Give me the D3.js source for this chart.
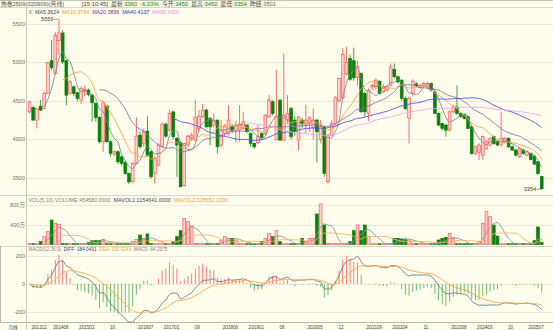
<!DOCTYPE html>
<html lang="zh">
<head>
<meta charset="UTF-8" />
<title>热卷2509 月线 – D3.js</title>
<script src="https://d3js.org/d3.v7.min.js"></script>
<style>
  body { margin: 0; background: #fffeec; }
  svg { display: block; font-family: "Liberation Sans", "Noto Sans CJK SC", sans-serif; }
  .axis-label { fill: #707070; font-size: 5.6px; }
  .xlab { fill: #404040; font-size: 4.6px; }
</style>
</head>
<body>
<svg width="553" height="330"></svg>
<script>
// monthly bars 2013-12 .. 2025-07
const months = d3.timeMonth
  .range(new Date(2013, 11, 1), new Date(2025, 7, 1))
  .map(d3.timeFormat('%Y-%m'));

const opens = [4358,4415,4250,4430,4400,4596,5020,4855,5280,5380,5020,4596,4682,4605,4510,4620,4640,4574,4466,4285,
  3970,4432,3970,3810,3840,3775,3700,3560,3450,3690,4056,3948,4108,3840,3560,3668,3905,4199,4120,4358,
  4013,3957,3400,3927,4013,3991,4140,4300,4380,4272,4186,4250,3927,4078,4078,4164,4120,4120,4140,4186,
  4078,3948,3957,4078,4078,4294,4488,4000,4510,3991,4250,4400,4250,3990,4250,4200,4210,4150,4250,4000,
  4164,3452,4056,4207,4500,4540,4850,5050,5020,4800,4855,4596,4337,4680,4682,4750,4617,4640,4704,4907,
  4812,4768,4531,4272,4600,4720,4680,4700,4680,4725,4617,4337,4207,4186,4121,4358,4420,4337,4315,4294,
  4164,3819,3830,3797,3883,3927,4035,3970,3927,3970,4013,3905,3862,3775,3862,3797,3819,3784,3711,3520];
const highs = [4501,4430,4410,4510,4617,5000,5287,5390,5559,5420,5030,4770,4700,4620,4690,4700,4660,4590,4480,4300,
  4490,4450,3990,3860,3860,3800,3720,3570,3700,4285,4100,4140,4300,3860,3780,3950,4220,4220,4380,4360,
  4030,3980,3960,4060,4080,4510,4380,4460,4400,4290,4337,4260,4250,4200,4445,4200,4240,4445,4358,4200,
  4090,3960,4186,4090,4330,4575,4510,4900,4520,5114,4575,4420,4300,4300,4280,4450,4300,4400,4270,4250,
  4180,4070,4250,4560,4800,5180,5200,5100,5190,5020,4870,4620,4660,4720,4790,4770,4720,4700,4985,4985,
  4830,4780,4560,4560,4780,4740,4720,4740,4750,4740,4630,4350,4220,4200,4380,4440,4700,4350,4330,4310,
  4180,3920,3950,4050,3990,4030,4050,3990,4358,4030,4030,3920,3880,3900,3880,3860,3830,3800,3720,3530];
const lows = [4337,4245,4142,4370,4390,4590,4900,4840,5100,4980,4445,4580,4560,4490,4460,4560,4560,4230,4230,3950,
  3840,3960,3780,3780,3680,3660,3540,3420,3440,3680,3880,3900,3780,3490,3430,3650,3890,4020,4100,4000,
  3516,3380,3390,3900,3980,3980,4100,4280,4140,3925,4160,3820,3900,4040,4060,4080,3960,3970,4120,4080,
  3900,3880,3940,4000,4060,4280,4310,3990,3980,3980,4200,4000,4050,3860,4150,4080,4100,4000,3700,3950,
  3516,3430,4040,4180,4480,4520,4830,4760,4760,4700,4340,4300,4240,4640,4650,4580,4600,4620,4690,4790,
  4720,4500,4380,3948,4560,4680,4660,4690,4660,4620,4330,4170,4120,4035,4100,4340,4320,4280,4260,4130,
  3800,3800,3732,3732,3870,3910,3930,3910,3910,3950,3890,3850,3780,3760,3800,3780,3730,3670,3540,3354];
const closes = [4488,4250,4400,4380,4596,4997,4933,5350,5380,5006,4574,4747,4596,4530,4660,4650,4583,4475,4285,3970,
  4475,3970,3820,3840,3710,3690,3560,3450,3690,4043,3905,4100,3797,3516,3754,3927,4199,4043,4337,4035,
  3927,3387,3948,4043,4056,4285,4300,4380,4164,4164,4250,3905,4121,4164,4250,4120,4186,4200,4229,4100,
  3948,3905,4035,4026,4315,4510,4337,4300,3991,4315,4337,4035,4100,4290,4210,4250,4280,4240,4100,4164,
  3560,4056,4207,4540,4790,5100,5000,4780,4800,4950,4360,4358,4639,4700,4768,4596,4682,4682,4941,4812,
  4747,4531,4400,4531,4750,4700,4700,4725,4725,4640,4337,4186,4142,4121,4358,4423,4337,4294,4272,4142,
  3819,3905,3927,4035,3970,4013,3948,3927,4013,4013,3905,3862,3797,3883,3819,3840,3740,3680,3560,3360];
// volume in 万 (10k lots)
const volumes = [12,10,15,57,157,257,490,423,403,20,15,10,12,10,15,12,37,77,77,77,
  103,15,12,10,12,10,12,15,60,100,190,120,210,20,12,10,12,10,15,57,
  157,277,523,457,370,20,12,10,12,10,12,15,90,157,123,123,90,15,12,10,
  12,10,12,60,123,223,157,277,57,15,12,10,12,15,123,57,123,123,610,810,
  390,20,12,10,12,10,15,57,277,390,277,390,157,15,12,10,12,10,12,123,
  123,110,110,90,15,12,10,12,10,12,15,90,123,143,223,123,15,12,10,12,
  10,12,57,423,657,557,390,170,15,12,10,12,10,12,23,23,23,77,350,45.5];

const tickMonths = ['2013-12','2014-08','2015-03','2015-10','2016-07','2017-02','2017-09','2018-06','2019-01','2019-08',
  '2020-05','2020-12','2021-09','2022-04','2022-11','2023-08','2024-03','2024-10','2025-07'];
const tickLabels = ['201312','201408','201503','10','201607','201702','09','201806','201901','08',
  '202005','12','202109','202204','11','202308','202403','10','202507'];

const priceTicks = [3500, 4000, 4500, 5000, 5500];
const volTicks = [400, 800];
const macdTicks = [-200, 0, 200];

const svg = d3.select('svg');
const W = 553;

const bars = months.map((m, i) => ({
  m, i, o: opens[i], h: highs[i], l: lows[i], c: closes[i], v: volumes[i],
  up: closes[i] >= opens[i],
}));

// moving average helper
function ma(arr, n) {
  return arr.map((d, i) => (i < n - 1 ? null : d3.mean(arr.slice(i - n + 1, i + 1))));
}
function ema(arr, n) {
  const out = [];
  arr.forEach((d, i) => out.push(i === 0 ? d : (2 * d + (n - 1) * out[i - 1]) / (n + 1)));
  return out;
}

const x = d3.scaleBand().domain(months).range([27.66, 543.56]).paddingInner(0.24).paddingOuter(0.12);
const cx = (i) => x(months[i]) + x.bandwidth() / 2;
const yP = d3.scaleLinear().domain([3500, 5500]).range([178, 23.7]);
const yV = d3.scaleLinear().domain([0, 800]).range([244.5, 204.5]);
const yM = d3.scaleLinear().domain([-200, 200]).range([311.7, 256]);

svg.append('rect').attr('width', 553).attr('height', 330).attr('fill', '#fffeec');

// frame lines
const frame = svg.append('g').attr('stroke', '#d8d8c8').attr('stroke-width', 1).attr('shape-rendering', 'crispEdges');
frame.append('line').attr('x1', 0).attr('x2', W).attr('y1', 0.5).attr('y2', 0.5).attr('stroke', '#c4c4b4');
frame.append('line').attr('x1', 0).attr('x2', W).attr('y1', 7.5).attr('y2', 7.5);
frame.append('line').attr('x1', 0).attr('x2', W).attr('y1', 195.5).attr('y2', 195.5);
frame.append('line').attr('x1', 0).attr('x2', W).attr('y1', 246.5).attr('y2', 246.5);
frame.append('line').attr('x1', 0).attr('x2', W).attr('y1', 322.5).attr('y2', 322.5).attr('stroke', '#b8b8a8');
frame.append('line').attr('x1', 26.5).attr('x2', 26.5).attr('y1', 8).attr('y2', 330).attr('stroke', '#c8c8b8');
frame.append('line').attr('x1', 0.5).attr('x2', 0.5).attr('y1', 246).attr('y2', 323).attr('stroke', '#b8b8a8');

// grid
const grid = svg.append('g').attr('stroke', '#ebebdc').attr('shape-rendering', 'crispEdges');
grid.selectAll('.gp').data(priceTicks).join('line')
  .attr('x1', 27).attr('x2', W).attr('y1', (d) => Math.round(yP(d)) + 0.5).attr('y2', (d) => Math.round(yP(d)) + 0.5);
grid.selectAll('.gv').data(volTicks).join('line')
  .attr('x1', 27).attr('x2', W).attr('y1', (d) => Math.round(yV(d)) + 0.5).attr('y2', (d) => Math.round(yV(d)) + 0.5);
grid.selectAll('.gm').data(macdTicks).join('line')
  .attr('x1', 27).attr('x2', W).attr('y1', (d) => Math.round(yM(d)) + 0.5).attr('y2', (d) => Math.round(yM(d)) + 0.5);

// y labels
svg.append('g').selectAll('text').data(priceTicks).join('text')
  .attr('class', 'axis-label').attr('x', 25).attr('y', (d) => yP(d) + 2).attr('text-anchor', 'end').text((d) => d);
svg.append('g').selectAll('text').data(volTicks).join('text')
  .attr('class', 'axis-label').attr('x', 25).attr('y', (d) => yV(d) + 2).attr('text-anchor', 'end').text((d) => d + '万');
svg.append('g').selectAll('text').data(macdTicks).join('text')
  .attr('class', 'axis-label').attr('x', 25).attr('y', (d) => yM(d) + 2).attr('text-anchor', 'end').text((d) => d);

// candles
const upStroke = '#ff5a5a', upFill = '#ffd2cc', dnColor = '#0a800a';
const cg = svg.append('g');
cg.selectAll('line').data(bars).join('line')
  .attr('x1', (d) => cx(d.i)).attr('x2', (d) => cx(d.i))
  .attr('y1', (d) => yP(d.h)).attr('y2', (d) => yP(d.l))
  .attr('stroke', (d) => (d.up ? upStroke : '#2a9a2a')).attr('stroke-width', 0.9);
cg.selectAll('rect').data(bars).join('rect')
  .attr('x', (d) => x(d.m)).attr('width', x.bandwidth())
  .attr('y', (d) => yP(Math.max(d.o, d.c)))
  .attr('height', (d) => Math.max(0.8, Math.abs(yP(d.o) - yP(d.c))))
  .attr('fill', (d) => (d.up ? upFill : dnColor))
  .attr('stroke', (d) => (d.up ? upStroke : dnColor)).attr('stroke-width', 0.7);

// price moving averages
const maDefs = [
  { n: 5, color: '#7a8898' },
  { n: 10, color: '#f8a848' },
  { n: 20, color: '#9070b0' },
  { n: 40, color: '#5252ee' },
  { n: 60, color: '#f2a6f2' },
];
const lineP = d3.line().defined((d) => d != null).x((d, i) => cx(i)).y((d) => yP(d)).curve(d3.curveMonotoneX);
maDefs.forEach((m) => {
  svg.append('path').datum(ma(closes, m.n)).attr('d', lineP)
    .attr('fill', 'none').attr('stroke', m.color).attr('stroke-width', 0.9);
});

// high / low markers
const iHi = d3.maxIndex(highs), iLo = d3.minIndex(lows);
svg.append('line').attr('x1', cx(iHi) - 5).attr('x2', cx(iHi) - 0.5).attr('y1', yP(highs[iHi])).attr('y2', yP(highs[iHi]))
  .attr('stroke', '#606060').attr('stroke-width', 0.6);
svg.append('text').attr('class', 'axis-label').attr('x', cx(iHi) - 5.5).attr('y', yP(highs[iHi]) + 2)
  .attr('text-anchor', 'end').style('fill', '#404040').text(highs[iHi]);
svg.append('line').attr('x1', cx(iLo) - 5).attr('x2', cx(iLo) - 0.5).attr('y1', yP(lows[iLo])).attr('y2', yP(lows[iLo]))
  .attr('stroke', '#606060').attr('stroke-width', 0.6);
svg.append('text').attr('class', 'axis-label').attr('x', cx(iLo) - 5.5).attr('y', yP(lows[iLo]) + 2)
  .attr('text-anchor', 'end').style('fill', '#404040').text(lows[iLo]);

// volume bars
const vg = svg.append('g');
vg.selectAll('rect').data(bars).join('rect')
  .attr('x', (d) => x(d.m)).attr('width', x.bandwidth())
  .attr('y', (d) => Math.min(yV(d.v), yV(0) - 0.8))
  .attr('height', (d) => Math.max(0.8, yV(0) - yV(d.v)))
  .attr('fill', (d) => (d.up ? upFill : dnColor))
  .attr('stroke', (d) => (d.up ? upStroke : dnColor)).attr('stroke-width', 0.7);
const lineV = d3.line().defined((d) => d != null).x((d, i) => cx(i)).y((d) => yV(d)).curve(d3.curveMonotoneX);
svg.append('path').datum(ma(volumes, 5)).attr('d', lineV).attr('fill', 'none').attr('stroke', '#8496a8').attr('stroke-width', 0.9);
svg.append('path').datum(ma(volumes, 10)).attr('d', lineV).attr('fill', 'none').attr('stroke', '#fdb468').attr('stroke-width', 0.9);

// MACD
const e12 = ema(closes, 12), e26 = ema(closes, 26);
const diff = e12.map((d, i) => d - e26[i]);
const dea = ema(diff, 9);
const macd = diff.map((d, i) => 2 * (d - dea[i]));
svg.append('g').selectAll('line').data(macd).join('line')
  .attr('x1', (d, i) => cx(i)).attr('x2', (d, i) => cx(i))
  .attr('y1', yM(0)).attr('y2', (d) => yM(d))
  .attr('stroke', (d) => (d >= 0 ? '#ff6a6a' : '#5cb85c')).attr('stroke-width', 0.9);
const lineM = d3.line().x((d, i) => cx(i)).y((d) => yM(d)).curve(d3.curveMonotoneX);
svg.append('path').datum(diff).attr('d', lineM).attr('fill', 'none').attr('stroke', '#6a7c8e').attr('stroke-width', 0.9);
svg.append('path').datum(dea).attr('d', lineM).attr('fill', 'none').attr('stroke', '#ffa848').attr('stroke-width', 0.9);

// x axis labels
svg.append('text').attr('class', 'xlab').attr('x', 13).attr('y', 328.5).attr('text-anchor', 'middle').text('月线');
svg.append('g').selectAll('text').data(tickMonths).join('text')
  .attr('class', 'xlab')
  .attr('x', (d, i) => Math.min(550, Math.max(28, cx(months.indexOf(d)) + 2)))
  .attr('text-anchor', (d, i) => (i === 0 ? 'start' : i === tickMonths.length - 1 ? 'end' : 'middle'))
  .attr('y', 328.5)
  .text((d, i) => tickLabels[i]);

// header: quote line
const head = svg.append('text').attr('y', 6).style('font-size', '5.8px').attr('xml:space', 'preserve');
head.append('tspan').attr('x', 1).attr('fill', '#505050').text('热卷2509(020909)(月线)');
head.append('tspan').attr('x', 82).attr('fill', '#404040').text('[15:10:45]  最新:');
head.append('tspan').attr('fill', '#008000').text('3360  -6.03%');
head.append('tspan').attr('fill', '#404040').text('  今开:');
head.append('tspan').attr('fill', '#008000').text('3450');
head.append('tspan').attr('fill', '#404040').text('  最高:');
head.append('tspan').attr('fill', '#008000').text('3450');
head.append('tspan').attr('fill', '#404040').text('  最低:');
head.append('tspan').attr('fill', '#008000').text('3354');
head.append('tspan').attr('fill', '#404040').text('  昨结:');
head.append('tspan').attr('fill', '#606060').text('3501');

// legends, each written as one line of coloured tspans
function legend(y, size, parts) {
  const t = svg.append('text').attr('x', 28.5).attr('y', y).style('font-size', size).attr('xml:space', 'preserve');
  parts.forEach((p, k) => t.append('tspan').attr('fill', p[1]).text((k ? '  ' : '') + p[0]));
}
legend(14.2, '5.3px', [
  ['X', '#707070'], ['MA5:3624', '#3a4464'], ['MA10:3734', '#f39a2a'],
  ['MA20:3836', '#70309a'], ['MA40:4137', '#2a2ad8'], ['MA60:4300', '#f088f0'],
]);
legend(201.5, '5.4px', [
  ['VOL(5,10) VOLUME:454580.0000', '#808080'], ['MAVOL1:1154641.0000', '#3a4464'], ['MAVOL2:628652.2000', '#f5a040'],
]);
legend(251.4, '4.7px', [
  ['MACD(12,26,9)', '#808080'], ['DIFF:-184.0431', '#3a4464'], ['DEA:-151.9243', '#f5a040'], ['MACD:-64.2375', '#808080'],
]);
</script>
</body>
</html>
